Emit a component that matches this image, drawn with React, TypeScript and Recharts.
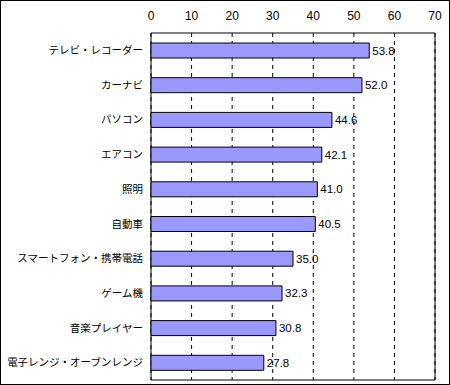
import React from 'react';
import {
  BarChart,
  Bar,
  XAxis,
  YAxis,
  CartesianGrid,
  LabelList,
  ReferenceArea,
} from 'recharts';

const categories = [
  'テレビ・レコーダー',
  'カーナビ',
  'パソコン',
  'エアコン',
  '照明',
  '自動車',
  'スマートフォン・携帯電話',
  'ゲーム機',
  '音楽プレイヤー',
  '電子レンジ・オーブンレンジ',
];
const values = [53.8, 52.0, 44.6, 42.1, 41.0, 40.5, 35.0, 32.3, 30.8, 27.8];
const xTicks = [0, 10, 20, 30, 40, 50, 60, 70];
// boundaries between categories, used for the small ticks on the left axis
const boundaryTicks = [1, 2, 3, 4, 5, 6, 7, 8, 9];

const data = categories.map((name, i) => ({ name, value: values[i] }));

const font = '"Liberation Sans", "Noto Sans CJK JP", sans-serif';

const App = () => {
  return (
    <div style={{ position: 'absolute', left: 0, top: 0, width: 450, height: 385, background: '#fff' }}>
      <div
        style={{
          position: 'absolute',
          left: 0,
          top: 0,
          width: 448,
          height: 383,
          border: '1px solid #000',
        }}
      />
      <BarChart
        width={450}
        height={385}
        data={data}
        layout="vertical"
        margin={{ top: 3, right: 15, left: 0, bottom: 5 }}
        style={{ fontFamily: font }}
      >
        <CartesianGrid
          horizontal={false}
          stroke="#000"
          strokeDasharray="4 4"
        />
        <XAxis
          type="number"
          orientation="top"
          height={30}
          domain={[0, 70]}
          ticks={xTicks}
          interval={0}
          axisLine={false}
          tickLine={false}
          tickSize={0}
          tickMargin={13}
          tick={{ fill: '#000', fontSize: 12, fontFamily: font }}
        />
        <YAxis
          type="category"
          dataKey="name"
          width={151}
          axisLine={false}
          tickLine={false}
          tickSize={0}
          tickMargin={8}
          interval={0}
          tick={{ fill: '#000', fontSize: 10.5, fontFamily: font }}
        />
        <YAxis
          yAxisId="bounds"
          type="number"
          domain={[0, 10]}
          ticks={boundaryTicks}
          mirror
          axisLine={false}
          tickLine={{ stroke: '#000' }}
          tickSize={4}
          tick={() => <g />}
          width={0}
        />
        <ReferenceArea x1={0} x2={70} fill="none" stroke="#000" strokeWidth={1} ifOverflow="visible" />
        <Bar
          dataKey="value"
          fill="#9999ff"
          stroke="#000"
          strokeWidth={1}
          barSize={15}
          isAnimationActive={false}
        >
          <LabelList
            dataKey="value"
            position="right"
            offset={3}
            formatter={(v: number) => v.toFixed(1)}
            style={{ fill: '#000', fontSize: 11.5, fontFamily: font }}
          />
        </Bar>
      </BarChart>
    </div>
  );
};

export default App;
